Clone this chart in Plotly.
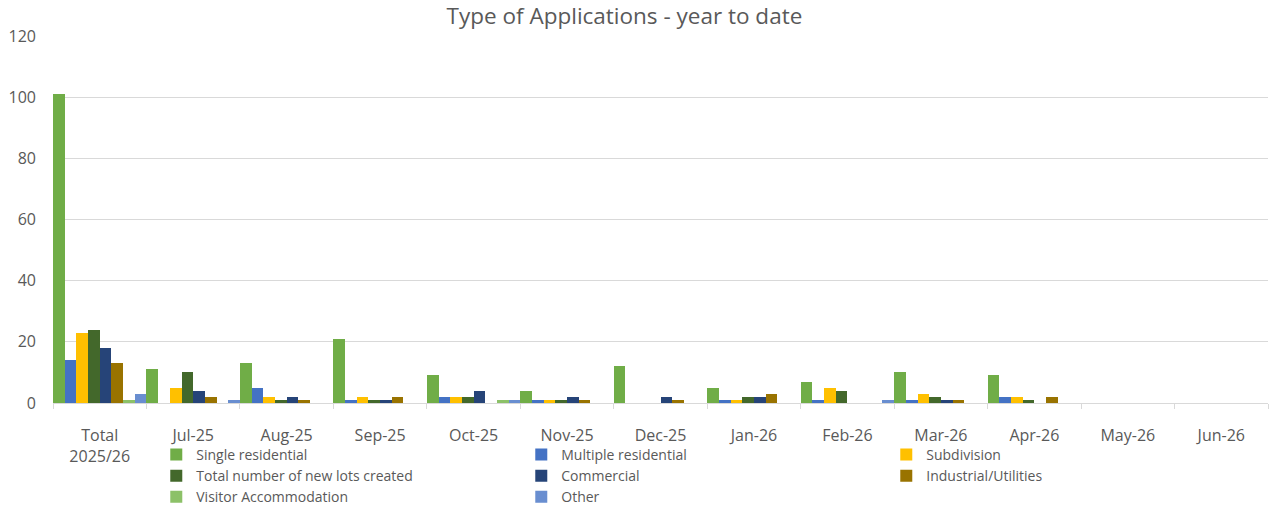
import plotly.graph_objects as go

# Catégories (axe x)
mois = ["Total<br>2025/26", "Jul-25", "Aug-25", "Sep-25", "Oct-25", "Nov-25", "Dec-25",
        "Jan-26", "Feb-26", "Mar-26", "Apr-26", "May-26", "Jun-26"]

# Séries
single_residential = [101, 11, 13, 21, 9, 4, 12, 5, 7, 10, 9, 0, 0]
multiple_residential = [14, 0, 5, 1, 2, 1, 0, 1, 1, 1, 2, 0, 0]
subdivision = [23, 5, 2, 2, 2, 1, 0, 1, 5, 3, 2, 0, 0]
new_lots = [24, 10, 1, 1, 2, 1, 0, 2, 4, 2, 1, 0, 0]
commercial = [18, 4, 2, 1, 4, 2, 2, 2, 0, 1, 0, 0, 0]
industrial = [13, 2, 1, 2, 0, 1, 1, 3, 0, 1, 2, 0, 0]
visitor = [1, 0, 0, 0, 1, 0, 0, 0, 0, 0, 0, 0, 0]
other = [3, 1, 0, 0, 1, 0, 0, 0, 1, 0, 0, 0, 0]

series = [
    ("Single residential", single_residential, "#70AD47"),
    ("Multiple residential", multiple_residential, "#4472C4"),
    ("Subdivision", subdivision, "#FFC000"),
    ("Total number of new lots created", new_lots, "#43682B"),
    ("Commercial", commercial, "#264478"),
    ("Industrial/Utilities", industrial, "#997300"),
    ("Visitor Accommodation", visitor, "#8CC168"),
    ("Other", other, "#698ED0"),
]

police = "'Open Sans', sans-serif"
gris = "#595959"

fig = go.Figure()
for nom, valeurs, couleur in series:
    fig.add_trace(go.Bar(
        x=mois,
        y=valeurs,
        name=nom,
        marker=dict(color=couleur, line=dict(width=0)),
    ))

# La zone de tracé occupe le haut ; la légende reste dans le "paper" pour ne pas pousser les marges
fig.update_layout(
    title=dict(text="Type of Applications - year to date", x=0.4913, xanchor="center",
               y=0.969, yref="container", yanchor="middle",
               font=dict(family=police, size=22.5, color=gris)),
    barmode="group",
    bargap=0,
    bargroupgap=0,
    plot_bgcolor="#ffffff",
    paper_bgcolor="#ffffff",
    width=1271,
    height=515,
    margin=dict(l=53, r=3, t=36, b=0),
    font=dict(family=police, size=16, color=gris),
    legend=dict(
        orientation="h",
        x=0.085, xanchor="left",
        y=0.159, yanchor="top",
        entrywidth=320,
        bgcolor="rgba(0,0,0,0)",
        font=dict(family=police, size=14, color=gris),
        itemwidth=30,
        tracegroupgap=0,
    ),
    xaxis=dict(
        showline=True, linecolor="#d9d9d9", linewidth=1,
        ticks="outside", tickson="boundaries", ticklen=5, tickcolor="#d9d9d9",
        ticklabelstandoff=18,
        showgrid=False, automargin=False,
        tickfont=dict(family=police, size=16, color=gris),
    ),
    yaxis=dict(
        domain=[0.2338, 1],
        range=[0, 120], dtick=20,
        gridcolor="#d9d9d9", gridwidth=1,
        zeroline=False, automargin=False,
        ticklabelstandoff=16,
        tickfont=dict(family=police, size=16, color=gris),
    ),
)

# On retire la marge par défaut du <body> pour que la figure remplisse la fenêtre
fig.write_html("out.html",
               config={"displayModeBar": False},
               post_script="document.body.style.margin='0';document.body.style.overflow='hidden';")
